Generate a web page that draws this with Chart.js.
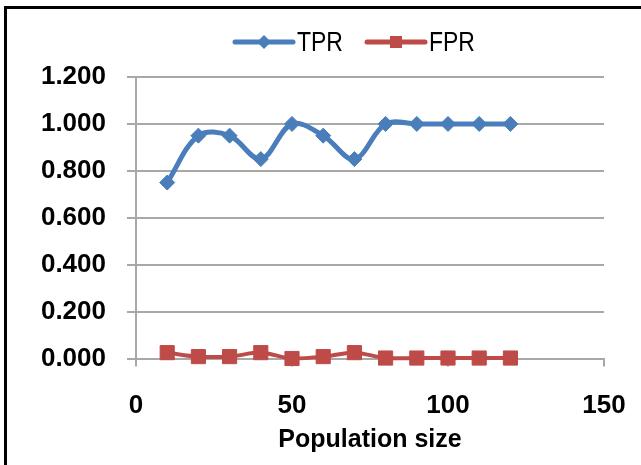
<!DOCTYPE html>
<html>
<head>
<meta charset="utf-8">
<script src="https://cdn.jsdelivr.net/npm/chart.js@4.4.1/dist/chart.umd.min.js"></script>
<style>
  html, body { margin: 0; padding: 0; background: #fff; }
  #wrap { width: 641px; height: 465px; }
</style>
</head>
<body>
<div id="wrap"><canvas id="chart" width="641" height="465"></canvas></div>
<script>
// chart data
const populationSize = [10, 20, 30, 40, 50, 60, 70, 80, 90, 100, 110, 120];
const tprValues = [0.75, 0.95, 0.95, 0.85, 1.0, 0.95, 0.85, 1.0, 1.0, 1.0, 1.0, 1.0];
const fprValues = [0.025, 0.008, 0.008, 0.025, 0.0, 0.008, 0.025, 0.002, 0.002, 0.002, 0.002, 0.002];
const seriesNames = ['TPR', 'FPR'];
const xTicks = [0, 50, 100, 150];
const yTicks = [0, 0.2, 0.4, 0.6, 0.8, 1.0, 1.2];
const xTitle = 'Population size';

const BLUE = '#4a7ebb';
const RED = '#be4b48';
const GRID = '#a8a8a8';

// plot area in the picture
const PLOT_LEFT = 136, PLOT_TOP = 77, PLOT_RIGHT = 604, PLOT_BOTTOM = 358.5;

// Excel style legend: short line with the marker on it, then the name
const LEGEND_X = [233, 365];
const LEGEND_Y = 42;
const LEGEND_LINE = 62;

const framePlugin = {
    id: 'frame',
    beforeDraw(chart) {
        const ctx = chart.ctx;
        ctx.save();
        ctx.fillStyle = '#fff';
        ctx.fillRect(0, 0, chart.width, chart.height);
        ctx.fillStyle = '#000';
        ctx.fillRect(4, 6, chart.width - 4, 3);
        ctx.fillRect(4, 6, 3, chart.height - 6);
        ctx.restore();
    }
};

const legendPlugin = {
    id: 'excelLegend',
    afterDraw(chart) {
        const ctx = chart.ctx;
        chart.data.datasets.forEach((ds, i) => {
            const x0 = LEGEND_X[i];
            const cx = x0 + LEGEND_LINE / 2;
            ctx.save();
            ctx.strokeStyle = ds.borderColor;
            ctx.fillStyle = ds.borderColor;
            ctx.lineWidth = 5;
            ctx.lineCap = 'round';
            ctx.beginPath();
            ctx.moveTo(x0 + 2, LEGEND_Y);
            ctx.lineTo(x0 + LEGEND_LINE - 2, LEGEND_Y);
            ctx.stroke();
            Chart.helpers.drawPoint(ctx, {
                pointStyle: ds.pointStyle,
                radius: ds.pointStyle === 'rect' ? 8.5 : 7,
                rotation: 0,
                borderWidth: 0
            }, cx, LEGEND_Y);
            ctx.fillStyle = '#000';
            ctx.font = '28px "Liberation Sans", Arial, sans-serif';
            ctx.textBaseline = 'middle';
            ctx.translate(x0 + LEGEND_LINE + 2, LEGEND_Y + 1);
            ctx.scale(0.82, 1);
            ctx.fillText(ds.label, 0, 0);
            ctx.restore();
        });
    }
};

const toPoints = (xs, ys) => xs.map((x, i) => ({ x: x, y: ys[i] }));

new Chart(document.getElementById('chart'), {
    type: 'line',
    data: {
        datasets: [{
            label: seriesNames[0],
            data: toPoints(populationSize, tprValues),
            borderColor: BLUE,
            backgroundColor: BLUE,
            borderWidth: 5,
            tension: 0.35,
            pointStyle: 'rectRot',
            pointRadius: 7.5,
            pointBorderWidth: 1,
            pointBackgroundColor: BLUE,
            pointBorderColor: BLUE,
            clip: false
        }, {
            label: seriesNames[1],
            data: toPoints(populationSize, fprValues),
            borderColor: RED,
            backgroundColor: RED,
            borderWidth: 4,
            tension: 0.35,
            pointStyle: 'rect',
            pointRadius: 10,
            pointBorderWidth: 1,
            pointBackgroundColor: RED,
            pointBorderColor: RED,
            clip: false
        }]
    },
    options: {
        responsive: false,
        animation: false,
        events: [],
        layout: {
            padding: 0
        },
        scales: {
            x: {
                type: 'linear',
                min: xTicks[0],
                max: xTicks[xTicks.length - 1],
                afterBuildTicks: s => { s.ticks = xTicks.map(v => ({ value: v })); },
                afterFit: s => {
                    s.height = 465 - PLOT_BOTTOM;
                    s.paddingLeft = 0;
                    s.paddingRight = 641 - PLOT_RIGHT;
                },
                grid: { drawOnChartArea: false, drawTicks: true, tickLength: 8, color: GRID, lineWidth: 2 },
                border: { display: true, color: GRID, width: 2 },
                ticks: {
                    padding: 24,
                    color: '#000',
                    font: { family: 'Liberation Sans', size: 26, weight: 'bold' }
                },
                title: {
                    display: true,
                    text: xTitle,
                    color: '#000',
                    padding: { top: 0, bottom: 10 },
                    font: { family: 'Liberation Sans', size: 25, weight: 'bold' }
                }
            },
            y: {
                min: yTicks[0],
                max: yTicks[yTicks.length - 1],
                afterBuildTicks: s => { s.ticks = yTicks.map(v => ({ value: v })); },
                afterFit: s => {
                    s.width = PLOT_LEFT;
                    s.paddingTop = PLOT_TOP;
                    s.paddingBottom = 0;
                },
                grid: { color: GRID, lineWidth: 2, tickLength: 9 },
                border: { display: true, color: GRID, width: 2 },
                ticks: {
                    padding: 21,
                    color: '#000',
                    font: { family: 'Liberation Sans', size: 26, weight: 'bold' },
                    callback: v => Number(v).toFixed(3)
                }
            }
        },
        plugins: {
            tooltip: { enabled: false },
            legend: { display: false }
        }
    },
    plugins: [framePlugin, legendPlugin]
});
</script>
</body>
</html>
